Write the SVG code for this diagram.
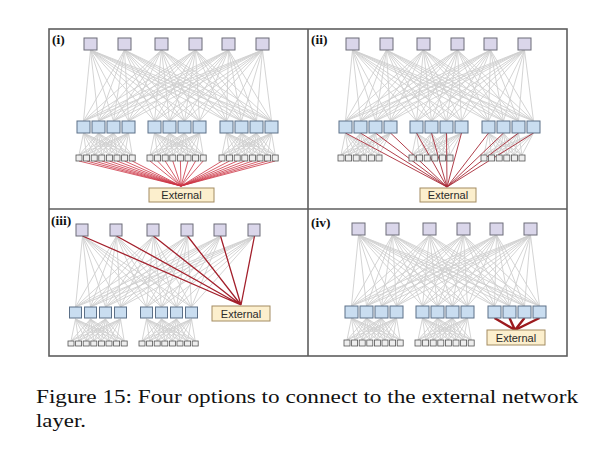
<svg xmlns="http://www.w3.org/2000/svg" xmlns:xlink="http://www.w3.org/1999/xlink" width="600" height="456" viewBox="0 0 600 456">
<style>
.t{fill:#dad6ea;stroke:#6c6c78;stroke-width:1}
.m{fill:#c9ddf0;stroke:#5c7088;stroke-width:1}
.b{fill:#eeeeee;stroke:#555;stroke-width:0.8}
.x{fill:#fcefcd;stroke:#a38c62;stroke-width:1}
.xl{font-family:"Liberation Sans",Arial,sans-serif;font-size:11px;fill:#2a2a2a;text-anchor:middle}
.pl{font-family:"Liberation Serif","Times New Roman",serif;font-size:13.5px;font-weight:bold;fill:#111}
.g{fill:none;stroke:#cfcfcf;stroke-width:0.9;stroke-linejoin:bevel}
.cap{font-family:"Liberation Serif","Times New Roman",serif;font-size:19.5px;fill:#111}
</style>
<defs>
<path id="tmA" d="M83.5 121L90.5 50L98.5 121M113.5 121L90.5 50L128.5 121M154.5 121L90.5 50L169.5 121M184.5 121L90.5 50L199.5 121M83.5 121L124.5 50L98.5 121M113.5 121L124.5 50L128.5 121M154.5 121L124.5 50L169.5 121M184.5 121L124.5 50L199.5 121M83.5 121L161.5 50L98.5 121M113.5 121L161.5 50L128.5 121M154.5 121L161.5 50L169.5 121M184.5 121L161.5 50L199.5 121M83.5 121L195.5 50L98.5 121M113.5 121L195.5 50L128.5 121M154.5 121L195.5 50L169.5 121M184.5 121L195.5 50L199.5 121M83.5 121L228.5 50L98.5 121M113.5 121L228.5 50L128.5 121M154.5 121L228.5 50L169.5 121M184.5 121L228.5 50L199.5 121M83.5 121L262.5 50L98.5 121M113.5 121L262.5 50L128.5 121M154.5 121L262.5 50L169.5 121M184.5 121L262.5 50L199.5 121"/>
<path id="tmB" d="M226.5 121L90.5 50L241.5 121M256.5 121L90.5 50L271.5 121M226.5 121L124.5 50L241.5 121M256.5 121L124.5 50L271.5 121M226.5 121L161.5 50L241.5 121M256.5 121L161.5 50L271.5 121M226.5 121L195.5 50L241.5 121M256.5 121L195.5 50L271.5 121M226.5 121L228.5 50L241.5 121M256.5 121L228.5 50L271.5 121M226.5 121L262.5 50L241.5 121M256.5 121L262.5 50L271.5 121"/>
<path id="mb8" d="M83.5 133L79 155L98.5 133M113.5 133L79 155L128.5 133M83.5 133L86.6 155L98.5 133M113.5 133L86.6 155L128.5 133M83.5 133L94.2 155L98.5 133M113.5 133L94.2 155L128.5 133M83.5 133L101.8 155L98.5 133M113.5 133L101.8 155L128.5 133M83.5 133L109.4 155L98.5 133M113.5 133L109.4 155L128.5 133M83.5 133L117 155L98.5 133M113.5 133L117 155L128.5 133M83.5 133L124.6 155L98.5 133M113.5 133L124.6 155L128.5 133M83.5 133L132.2 155L98.5 133M113.5 133L132.2 155L128.5 133"/>
<path id="mb6" d="M83.5 133L79 155L98.5 133M113.5 133L79 155L128.5 133M83.5 133L86.6 155L98.5 133M113.5 133L86.6 155L128.5 133M83.5 133L94.2 155L98.5 133M113.5 133L94.2 155L128.5 133M83.5 133L101.8 155L98.5 133M113.5 133L101.8 155L128.5 133M83.5 133L109.4 155L98.5 133M113.5 133L109.4 155L128.5 133M83.5 133L117 155L98.5 133M113.5 133L117 155L128.5 133"/>
</defs>
<rect width="600" height="456" fill="#fff"/>
<g id="frame" fill="none" stroke="#5e5e5e" stroke-width="1.6">
<rect x="49" y="29" width="518" height="327"/>
<line x1="308" y1="29" x2="308" y2="356"/>
<line x1="49" y1="209" x2="567" y2="209"/>
</g>
<g id="connectors">
<g class="g">
<use xlink:href="#tmA"/><use xlink:href="#tmB"/>
<use xlink:href="#mb8"/><use xlink:href="#mb8" transform="translate(71,0)"/><use xlink:href="#mb8" transform="translate(143,0)"/>
<use xlink:href="#tmA" transform="translate(262,0)"/><use xlink:href="#tmB" transform="translate(262,0)"/>
<use xlink:href="#mb6" transform="translate(262,0)"/><use xlink:href="#mb6" transform="translate(333,0)"/><use xlink:href="#mb6" transform="translate(405,0)"/>
<use xlink:href="#tmA" transform="translate(-8,186)"/>
<use xlink:href="#mb8" transform="translate(-8,186)"/><use xlink:href="#mb8" transform="translate(63,186)"/>
<use xlink:href="#tmA" transform="translate(268,185)"/><use xlink:href="#tmB" transform="translate(268,185)"/>
<use xlink:href="#mb8" transform="translate(268,185)"/><use xlink:href="#mb8" transform="translate(339,185)"/>
</g>
<path id="red-i" fill="none" stroke="#cc3344" stroke-width="0.8" stroke-linejoin="bevel" d="M79 161L181 186L86.6 161M94.2 161L181 186L101.8 161M109.4 161L181 186L117 161M124.6 161L181 186L132.2 161M150 161L181 186L157.6 161M165.2 161L181 186L172.8 161M180.4 161L181 186L188 161M195.6 161L181 186L203.2 161M222 161L181 186L229.6 161M237.2 161L181 186L244.8 161M252.4 161L181 186L260 161M267.6 161L181 186L275.2 161"/>
<path id="red-ii" fill="none" stroke="#a82a38" stroke-width="0.9" stroke-linejoin="bevel" d="M345.5 133L447 187L360.5 133M375.5 133L447 187L390.5 133M416.5 133L447 187L431.5 133M446.5 133L447 187L461.5 133M488.5 133L447 187L503.5 133M518.5 133L447 187L533.5 133"/>
<path id="red-iii" fill="none" stroke="#a3202c" stroke-width="1.3" stroke-linejoin="bevel" d="M82.5 236L241 305L116.5 236M153.5 236L241 305L187.5 236M220.5 236L241 305L254.5 236"/>
<path id="red-iv" fill="none" stroke="#9c1a1e" stroke-width="2.4" stroke-linejoin="round" d="M494.5 318L515 330L509.5 318M524.5 318L515 330L539.5 318"/>
</g>
<g id="nodes">
<g id="i-t1"><rect class="t" x="84" y="38" width="13" height="12"/></g>
<g id="i-t2"><rect class="t" x="118" y="38" width="13" height="12"/></g>
<g id="i-t3"><rect class="t" x="155" y="38" width="13" height="12"/></g>
<g id="i-t4"><rect class="t" x="189" y="38" width="13" height="12"/></g>
<g id="i-t5"><rect class="t" x="222" y="38" width="13" height="12"/></g>
<g id="i-t6"><rect class="t" x="256" y="38" width="13" height="12"/></g>
<g id="i-m1"><rect class="m" x="77" y="121" width="13" height="12"/></g>
<g id="i-m2"><rect class="m" x="92" y="121" width="13" height="12"/></g>
<g id="i-m3"><rect class="m" x="107" y="121" width="13" height="12"/></g>
<g id="i-m4"><rect class="m" x="122" y="121" width="13" height="12"/></g>
<g id="i-m5"><rect class="m" x="148" y="121" width="13" height="12"/></g>
<g id="i-m6"><rect class="m" x="163" y="121" width="13" height="12"/></g>
<g id="i-m7"><rect class="m" x="178" y="121" width="13" height="12"/></g>
<g id="i-m8"><rect class="m" x="193" y="121" width="13" height="12"/></g>
<g id="i-m9"><rect class="m" x="220" y="121" width="13" height="12"/></g>
<g id="i-m10"><rect class="m" x="235" y="121" width="13" height="12"/></g>
<g id="i-m11"><rect class="m" x="250" y="121" width="13" height="12"/></g>
<g id="i-m12"><rect class="m" x="265" y="121" width="13" height="12"/></g>
<g id="i-b1"><rect class="b" x="76" y="155" width="6" height="6"/></g>
<g id="i-b2"><rect class="b" x="83.6" y="155" width="6" height="6"/></g>
<g id="i-b3"><rect class="b" x="91.2" y="155" width="6" height="6"/></g>
<g id="i-b4"><rect class="b" x="98.8" y="155" width="6" height="6"/></g>
<g id="i-b5"><rect class="b" x="106.4" y="155" width="6" height="6"/></g>
<g id="i-b6"><rect class="b" x="114" y="155" width="6" height="6"/></g>
<g id="i-b7"><rect class="b" x="121.6" y="155" width="6" height="6"/></g>
<g id="i-b8"><rect class="b" x="129.2" y="155" width="6" height="6"/></g>
<g id="i-b9"><rect class="b" x="147" y="155" width="6" height="6"/></g>
<g id="i-b10"><rect class="b" x="154.6" y="155" width="6" height="6"/></g>
<g id="i-b11"><rect class="b" x="162.2" y="155" width="6" height="6"/></g>
<g id="i-b12"><rect class="b" x="169.8" y="155" width="6" height="6"/></g>
<g id="i-b13"><rect class="b" x="177.4" y="155" width="6" height="6"/></g>
<g id="i-b14"><rect class="b" x="185" y="155" width="6" height="6"/></g>
<g id="i-b15"><rect class="b" x="192.6" y="155" width="6" height="6"/></g>
<g id="i-b16"><rect class="b" x="200.2" y="155" width="6" height="6"/></g>
<g id="i-b17"><rect class="b" x="219" y="155" width="6" height="6"/></g>
<g id="i-b18"><rect class="b" x="226.6" y="155" width="6" height="6"/></g>
<g id="i-b19"><rect class="b" x="234.2" y="155" width="6" height="6"/></g>
<g id="i-b20"><rect class="b" x="241.8" y="155" width="6" height="6"/></g>
<g id="i-b21"><rect class="b" x="249.4" y="155" width="6" height="6"/></g>
<g id="i-b22"><rect class="b" x="257" y="155" width="6" height="6"/></g>
<g id="i-b23"><rect class="b" x="264.6" y="155" width="6" height="6"/></g>
<g id="i-b24"><rect class="b" x="272.2" y="155" width="6" height="6"/></g>
<g id="i-ext"><rect class="x" x="149" y="188" width="65" height="14"/><text class="xl" x="181.5" y="199">External</text></g>
<g id="ii-t1"><rect class="t" x="346" y="38" width="13" height="12"/></g>
<g id="ii-t2"><rect class="t" x="380" y="38" width="13" height="12"/></g>
<g id="ii-t3"><rect class="t" x="417" y="38" width="13" height="12"/></g>
<g id="ii-t4"><rect class="t" x="451" y="38" width="13" height="12"/></g>
<g id="ii-t5"><rect class="t" x="484" y="38" width="13" height="12"/></g>
<g id="ii-t6"><rect class="t" x="518" y="38" width="13" height="12"/></g>
<g id="ii-m1"><rect class="m" x="339" y="121" width="13" height="12"/></g>
<g id="ii-m2"><rect class="m" x="354" y="121" width="13" height="12"/></g>
<g id="ii-m3"><rect class="m" x="369" y="121" width="13" height="12"/></g>
<g id="ii-m4"><rect class="m" x="384" y="121" width="13" height="12"/></g>
<g id="ii-m5"><rect class="m" x="410" y="121" width="13" height="12"/></g>
<g id="ii-m6"><rect class="m" x="425" y="121" width="13" height="12"/></g>
<g id="ii-m7"><rect class="m" x="440" y="121" width="13" height="12"/></g>
<g id="ii-m8"><rect class="m" x="455" y="121" width="13" height="12"/></g>
<g id="ii-m9"><rect class="m" x="482" y="121" width="13" height="12"/></g>
<g id="ii-m10"><rect class="m" x="497" y="121" width="13" height="12"/></g>
<g id="ii-m11"><rect class="m" x="512" y="121" width="13" height="12"/></g>
<g id="ii-m12"><rect class="m" x="527" y="121" width="13" height="12"/></g>
<g id="ii-b1"><rect class="b" x="338" y="155" width="6" height="6"/></g>
<g id="ii-b2"><rect class="b" x="345.6" y="155" width="6" height="6"/></g>
<g id="ii-b3"><rect class="b" x="353.2" y="155" width="6" height="6"/></g>
<g id="ii-b4"><rect class="b" x="360.8" y="155" width="6" height="6"/></g>
<g id="ii-b5"><rect class="b" x="368.4" y="155" width="6" height="6"/></g>
<g id="ii-b6"><rect class="b" x="376" y="155" width="6" height="6"/></g>
<g id="ii-b7"><rect class="b" x="409" y="155" width="6" height="6"/></g>
<g id="ii-b8"><rect class="b" x="416.6" y="155" width="6" height="6"/></g>
<g id="ii-b9"><rect class="b" x="424.2" y="155" width="6" height="6"/></g>
<g id="ii-b10"><rect class="b" x="431.8" y="155" width="6" height="6"/></g>
<g id="ii-b11"><rect class="b" x="439.4" y="155" width="6" height="6"/></g>
<g id="ii-b12"><rect class="b" x="447" y="155" width="6" height="6"/></g>
<g id="ii-b13"><rect class="b" x="481" y="155" width="6" height="6"/></g>
<g id="ii-b14"><rect class="b" x="488.6" y="155" width="6" height="6"/></g>
<g id="ii-b15"><rect class="b" x="496.2" y="155" width="6" height="6"/></g>
<g id="ii-b16"><rect class="b" x="503.8" y="155" width="6" height="6"/></g>
<g id="ii-b17"><rect class="b" x="511.4" y="155" width="6" height="6"/></g>
<g id="ii-b18"><rect class="b" x="519" y="155" width="6" height="6"/></g>
<g id="ii-ext"><rect class="x" x="420" y="188" width="56" height="14"/><text class="xl" x="448" y="199">External</text></g>
<g id="iii-t1"><rect class="t" x="76" y="224" width="12" height="12"/></g>
<g id="iii-t2"><rect class="t" x="110" y="224" width="12" height="12"/></g>
<g id="iii-t3"><rect class="t" x="147" y="224" width="12" height="12"/></g>
<g id="iii-t4"><rect class="t" x="181" y="224" width="12" height="12"/></g>
<g id="iii-t5"><rect class="t" x="214" y="224" width="12" height="12"/></g>
<g id="iii-t6"><rect class="t" x="248" y="224" width="12" height="12"/></g>
<g id="iii-m1"><rect class="m" x="69.5" y="307" width="12" height="11"/></g>
<g id="iii-m2"><rect class="m" x="84.5" y="307" width="12" height="11"/></g>
<g id="iii-m3"><rect class="m" x="99.5" y="307" width="12" height="11"/></g>
<g id="iii-m4"><rect class="m" x="114.5" y="307" width="12" height="11"/></g>
<g id="iii-m5"><rect class="m" x="140.5" y="307" width="12" height="11"/></g>
<g id="iii-m6"><rect class="m" x="155.5" y="307" width="12" height="11"/></g>
<g id="iii-m7"><rect class="m" x="170.5" y="307" width="12" height="11"/></g>
<g id="iii-m8"><rect class="m" x="185.5" y="307" width="12" height="11"/></g>
<g id="iii-b1"><rect class="b" x="68" y="341" width="6" height="5"/></g>
<g id="iii-b2"><rect class="b" x="75.6" y="341" width="6" height="5"/></g>
<g id="iii-b3"><rect class="b" x="83.2" y="341" width="6" height="5"/></g>
<g id="iii-b4"><rect class="b" x="90.8" y="341" width="6" height="5"/></g>
<g id="iii-b5"><rect class="b" x="98.4" y="341" width="6" height="5"/></g>
<g id="iii-b6"><rect class="b" x="106" y="341" width="6" height="5"/></g>
<g id="iii-b7"><rect class="b" x="113.6" y="341" width="6" height="5"/></g>
<g id="iii-b8"><rect class="b" x="121.2" y="341" width="6" height="5"/></g>
<g id="iii-b9"><rect class="b" x="139" y="341" width="6" height="5"/></g>
<g id="iii-b10"><rect class="b" x="146.6" y="341" width="6" height="5"/></g>
<g id="iii-b11"><rect class="b" x="154.2" y="341" width="6" height="5"/></g>
<g id="iii-b12"><rect class="b" x="161.8" y="341" width="6" height="5"/></g>
<g id="iii-b13"><rect class="b" x="169.4" y="341" width="6" height="5"/></g>
<g id="iii-b14"><rect class="b" x="177" y="341" width="6" height="5"/></g>
<g id="iii-b15"><rect class="b" x="184.6" y="341" width="6" height="5"/></g>
<g id="iii-b16"><rect class="b" x="192.2" y="341" width="6" height="5"/></g>
<g id="iii-ext"><rect class="x" x="212" y="306" width="58" height="15"/><text class="xl" x="241" y="317.5">External</text></g>
<g id="iv-t1"><rect class="t" x="352" y="223" width="13" height="12"/></g>
<g id="iv-t2"><rect class="t" x="386" y="223" width="13" height="12"/></g>
<g id="iv-t3"><rect class="t" x="423" y="223" width="13" height="12"/></g>
<g id="iv-t4"><rect class="t" x="457" y="223" width="13" height="12"/></g>
<g id="iv-t5"><rect class="t" x="490" y="223" width="13" height="12"/></g>
<g id="iv-t6"><rect class="t" x="524" y="223" width="13" height="12"/></g>
<g id="iv-m1"><rect class="m" x="345" y="306" width="13" height="12"/></g>
<g id="iv-m2"><rect class="m" x="360" y="306" width="13" height="12"/></g>
<g id="iv-m3"><rect class="m" x="375" y="306" width="13" height="12"/></g>
<g id="iv-m4"><rect class="m" x="390" y="306" width="13" height="12"/></g>
<g id="iv-m5"><rect class="m" x="416" y="306" width="13" height="12"/></g>
<g id="iv-m6"><rect class="m" x="431" y="306" width="13" height="12"/></g>
<g id="iv-m7"><rect class="m" x="446" y="306" width="13" height="12"/></g>
<g id="iv-m8"><rect class="m" x="461" y="306" width="13" height="12"/></g>
<g id="iv-m9"><rect class="m" x="488" y="306" width="13" height="12"/></g>
<g id="iv-m10"><rect class="m" x="503" y="306" width="13" height="12"/></g>
<g id="iv-m11"><rect class="m" x="518" y="306" width="13" height="12"/></g>
<g id="iv-m12"><rect class="m" x="533" y="306" width="13" height="12"/></g>
<g id="iv-b1"><rect class="b" x="344" y="340" width="6" height="6"/></g>
<g id="iv-b2"><rect class="b" x="351.6" y="340" width="6" height="6"/></g>
<g id="iv-b3"><rect class="b" x="359.2" y="340" width="6" height="6"/></g>
<g id="iv-b4"><rect class="b" x="366.8" y="340" width="6" height="6"/></g>
<g id="iv-b5"><rect class="b" x="374.4" y="340" width="6" height="6"/></g>
<g id="iv-b6"><rect class="b" x="382" y="340" width="6" height="6"/></g>
<g id="iv-b7"><rect class="b" x="389.6" y="340" width="6" height="6"/></g>
<g id="iv-b8"><rect class="b" x="397.2" y="340" width="6" height="6"/></g>
<g id="iv-b9"><rect class="b" x="415" y="340" width="6" height="6"/></g>
<g id="iv-b10"><rect class="b" x="422.6" y="340" width="6" height="6"/></g>
<g id="iv-b11"><rect class="b" x="430.2" y="340" width="6" height="6"/></g>
<g id="iv-b12"><rect class="b" x="437.8" y="340" width="6" height="6"/></g>
<g id="iv-b13"><rect class="b" x="445.4" y="340" width="6" height="6"/></g>
<g id="iv-b14"><rect class="b" x="453" y="340" width="6" height="6"/></g>
<g id="iv-b15"><rect class="b" x="460.6" y="340" width="6" height="6"/></g>
<g id="iv-b16"><rect class="b" x="468.2" y="340" width="6" height="6"/></g>
<g id="iv-ext"><rect class="x" x="487" y="330" width="58" height="15"/><text class="xl" x="516" y="341.5">External</text></g>
</g>
<g id="labels">
<text class="pl" x="52" y="44">(i)</text>
<text class="pl" x="311" y="44">(ii)</text>
<text class="pl" x="51" y="225">(iii)</text>
<text class="pl" x="311" y="227">(iv)</text>
</g>
<g id="caption">
<text class="cap" x="36" y="403" textLength="542" lengthAdjust="spacingAndGlyphs">Figure 15: Four options to connect to the external network</text>
<text class="cap" x="36" y="427" textLength="50" lengthAdjust="spacingAndGlyphs">layer.</text>
</g>
</svg>
